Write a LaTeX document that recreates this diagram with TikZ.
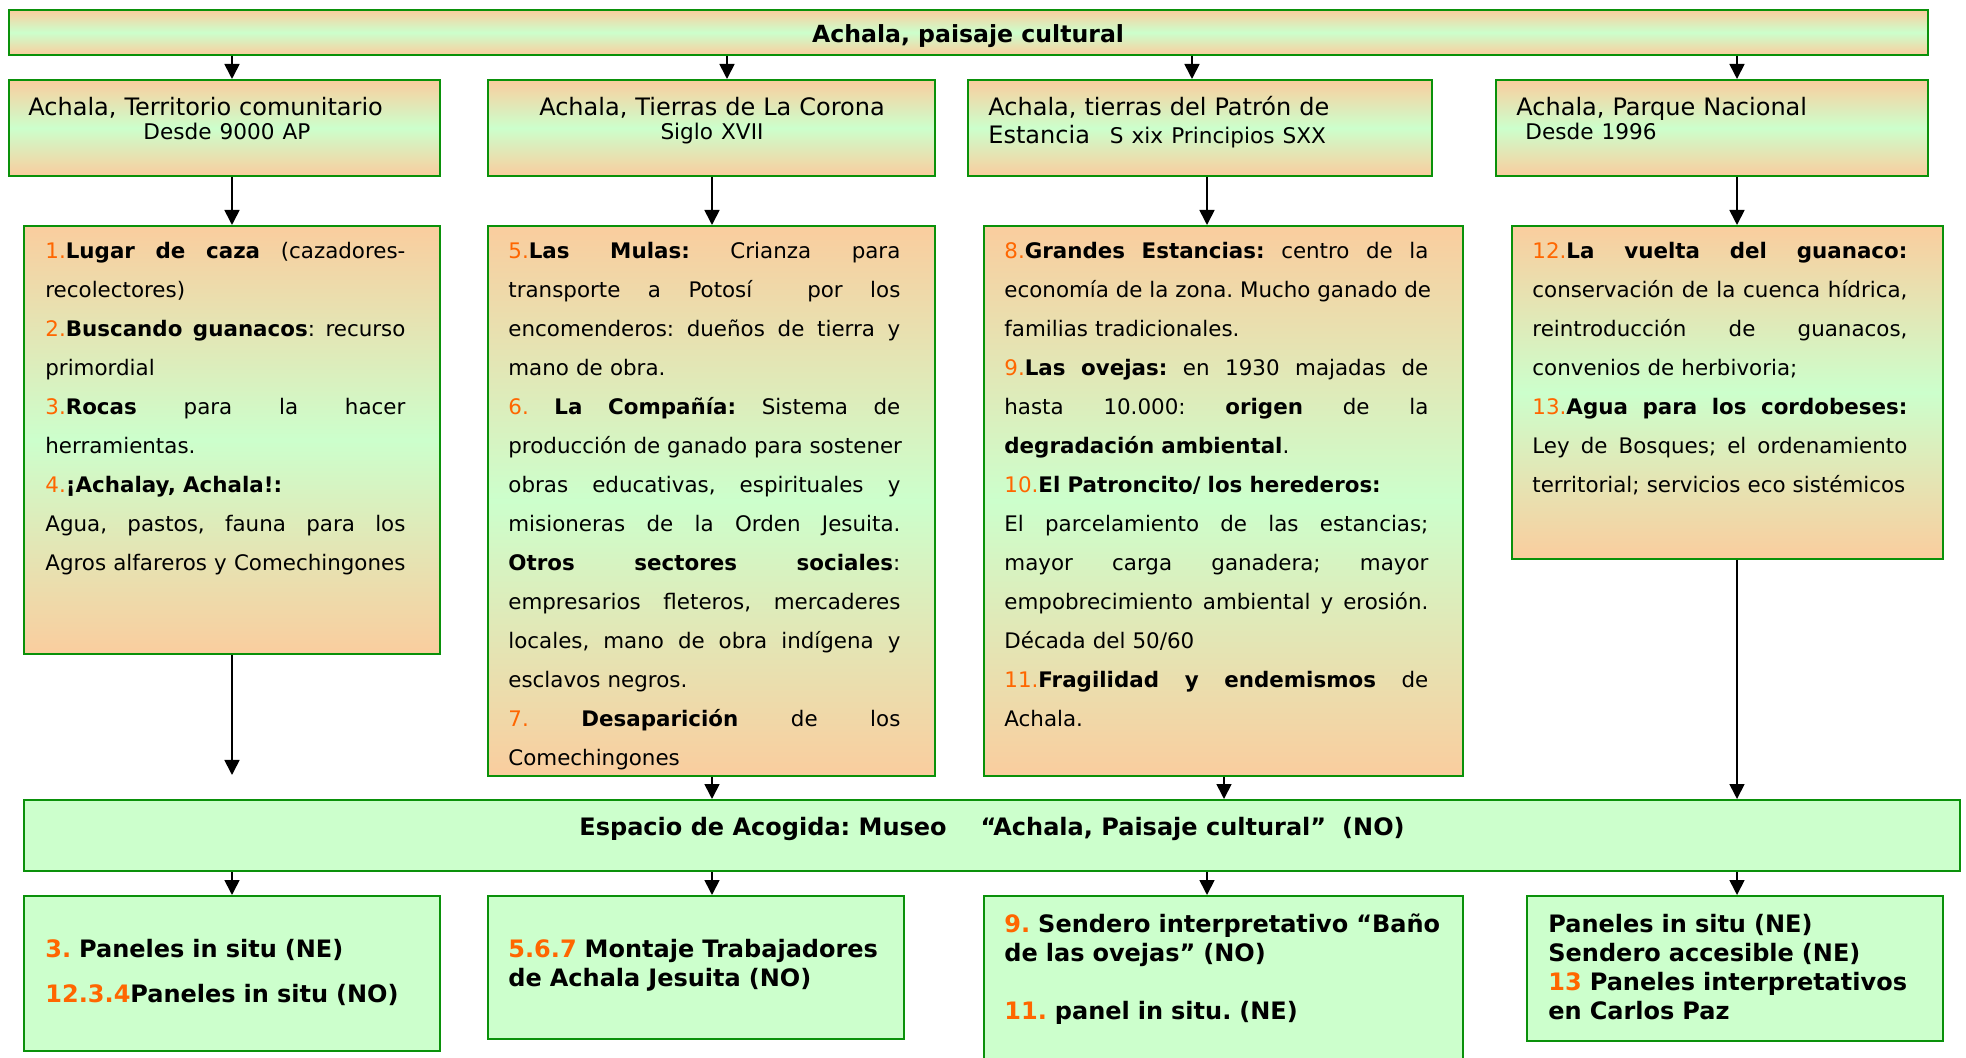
\documentclass[tikz,border=0pt]{standalone}
\usepackage{fontspec}
\setmainfont{DejaVu Sans}
\usetikzlibrary{
	arrows.meta,
	calc,
	positioning,
	fit
}

\definecolor{melocoton}{RGB}{250,205,158}
\definecolor{menta}{RGB}{204,255,204}
\definecolor{borde}{RGB}{10,145,10}
\definecolor{naranja}{RGB}{255,102,0}

\pgfdeclareverticalshading{franja}{100bp}{%
	color(0bp)=(melocoton); color(25bp)=(melocoton); color(50bp)=(menta);
	color(75bp)=(melocoton); color(100bp)=(melocoton)}

\frenchspacing
\hyphenpenalty=10000
\newlength{\anchocol}
\newcommand{\nro}[1]{\textcolor{naranja}{#1}}
\newcommand{\jl}[1]{\leavevmode\hbox to \anchocol{\spaceskip=0.32em plus 1fil\relax #1}}
\newcommand{\fl}[1]{\mbox{#1}}
\newcommand{\subt}{\fontsize{10.8}{12}\selectfont}

\tikzset{
	caja/.style={draw=borde, line width=1pt, shading=franja, inner sep=0pt},
	plana/.style={draw=borde, line width=1pt, fill=menta, inner sep=0pt},
	texto/.style={inner sep=0pt, anchor=base west, align=left},
	cuerpo/.style={texto, text width=#1, font=\fontsize{10.7}{19.5}\selectfont,
		execute at begin node={\setlength{\anchocol}{#1}}},
	pie/.style={texto, font=\fontsize{12}{14.5}\selectfont\bfseries},
	flecha/.style={-{Triangle[length=7.5pt,width=7.5pt]}, line width=0.85pt}
}

\begin{document}
\begin{tikzpicture}[x=0.5pt, y=-0.5pt]
	\useasboundingbox (0,0) rectangle (1966,1058);
	
	% 标题
	\node[caja, fit={(9,10) (1928,55)}] (T) {};
	\node[anchor=base, inner sep=0pt, font=\fontsize{11.8}{14}\selectfont\bfseries] (Tt) at (968,43) {Achala, paisaje cultural};
	
	% 第二行
	\node[caja, fit={(9,80) (440,176)}] (A) {};
	\node[caja, fit={(488,80) (935,176)}] (B) {};
	\node[caja, fit={(968,80) (1432,176)}] (C) {};
	\node[caja, fit={(1496,80) (1928,176)}] (D) {};
	\node[texto, text width=205pt, font=\fontsize{12}{12}\selectfont] (At) at (28,116)
		{Achala, Territorio comunitario\\\hspace*{57.5pt}\subt Desde 9000 AP};
	\node[anchor=base, inner sep=0pt, align=center, text width=215pt, font=\fontsize{12}{12}\selectfont] (Bt) at (712,116)
		{Achala, Tierras de La Corona\\\subt Siglo XVII};
	\node[texto, text width=220pt, font=\fontsize{12}{14}\selectfont] (Ct) at (988,116)
		{Achala, tierras del Patrón de\\Estancia\hspace{6pt} {\fontsize{10.8}{14}\selectfont S xix Principios SXX}};
	\node[texto, text width=205pt, font=\fontsize{12}{12}\selectfont] (Dt) at (1516,116)
		{Achala, Parque Nacional\\\hspace*{4.5pt}\subt Desde 1996};
	
	% 第三行
	\node[caja, fit={(24,226) (440,654)}] (A1) {};
	\node[caja, fit={(488,226) (935,776)}] (B1) {};
	\node[caja, fit={(984,226) (1463,776)}] (C1) {};
	\node[caja, fit={(1512,226) (1943,559)}] (D1) {};
	\node[cuerpo=180pt] (A1t) at (45,259) {%
		\jl{\nro{1.}\textbf{Lugar de caza} (cazadores-}\\
		\fl{recolectores)}\\
		\jl{\nro{2.}\textbf{Buscando guanacos}: recurso}\\
		\fl{primordial}\\
		\jl{\nro{3.}\textbf{Rocas} para la hacer}\\
		\fl{herramientas.}\\
		\fl{\nro{4.}\textbf{¡Achalay, Achala!:}}\\
		\jl{Agua, pastos, fauna para los}\\
		\fl{Agros alfareros y Comechingones}};
	\node[cuerpo=196pt] (B1t) at (508,259) {%
		\jl{\nro{5.}\textbf{Las Mulas:} Crianza para}\\
		\jl{transporte a Potosí \ por los}\\
		\jl{encomenderos: dueños de tierra y}\\
		\fl{mano de obra.}\\
		\jl{\nro{6.} \textbf{La Compañía:} Sistema de}\\
		\jl{producción de ganado para sostener}\\
		\jl{obras educativas, espirituales y}\\
		\jl{misioneras de la Orden Jesuita.}\\
		\jl{\textbf{Otros sectores sociales}:}\\
		\jl{empresarios fleteros, mercaderes}\\
		\jl{locales, mano de obra indígena y}\\
		\fl{esclavos negros.}\\
		\jl{\nro{7.} \textbf{Desaparición} de los}\\
		\fl{Comechingones}};
	\node[cuerpo=212pt] (C1t) at (1004,259) {%
		\jl{\nro{8.}\textbf{Grandes Estancias:} centro de la}\\
		\jl{economía de la zona. Mucho ganado de}\\
		\fl{familias tradicionales.}\\
		\jl{\nro{9.}\textbf{Las ovejas:} en 1930 majadas de}\\
		\jl{hasta 10.000: \textbf{origen} de la}\\
		\fl{\textbf{degradación ambiental}.}\\
		\fl{\nro{10.}\textbf{El Patroncito/ los herederos:}}\\
		\jl{El parcelamiento de las estancias;}\\
		\jl{mayor carga ganadera; mayor}\\
		\jl{empobrecimiento ambiental y erosión.}\\
		\fl{Década del 50/60}\\
		\jl{\nro{11.}\textbf{Fragilidad y endemismos} de}\\
		\fl{Achala.}};
	\node[cuerpo=187.5pt] (D1t) at (1532,259) {%
		\jl{\nro{12.}\textbf{La vuelta del guanaco:}}\\
		\jl{conservación de la cuenca hídrica,}\\
		\jl{reintroducción de guanacos,}\\
		\fl{convenios de herbivoria;}\\
		\jl{\nro{13.}\textbf{Agua para los cordobeses:}}\\
		\jl{Ley de Bosques; el ordenamiento}\\
		\fl{territorial; servicios eco sistémicos}};
	
	% 博物馆
	\node[plana, fit={(24,800) (1960,871)}] (M) {};
	\node[anchor=base, inner sep=0pt, font=\fontsize{12}{14}\selectfont\bfseries] (Mt) at (992,835)
		{Espacio de Acogida: Museo\hspace{17pt}“Achala, Paisaje cultural”\hspace{8pt}(NO)};
	
	% 最下面一行
	\node[plana, fit={(24,896) (440,1051)}] (A2) {};
	\node[plana, fit={(488,896) (904,1039)}] (B2) {};
	\node[plana, fit={(984,896) (1463,1075)}] (C2) {};
	\node[plana, fit={(1527,896) (1943,1041)}] (D2) {};
	\node[pie, text width=190pt, font=\fontsize{12}{22.5}\selectfont\bfseries] (A2t) at (45,957)
		{\nro{3.} Paneles in situ (NE)\\\nro{12.3.4}Paneles in situ (NO)};
	\node[pie, text width=200pt] (B2t) at (508,957)
		{\nro{5.6.7} Montaje Trabajadores\\de Achala Jesuita (NO)};
	\node[pie, text width=225pt] (C2t) at (1004,932)
		{\nro{9.} Sendero interpretativo “Baño\\de las ovejas” (NO)\\[14.5pt]\nro{11.} panel in situ. (NE)};
	\node[pie, text width=200pt] (D2t) at (1548,932)
		{Paneles in situ (NE)\\Sendero accesible (NE)\\\nro{13} Paneles interpretativos\\en Carlos Paz};
	
	% 箭头的位置
	\foreach \x/\n in {232/1,727/2,1192/3,1737/4}
		\coordinate (t\n) at (\x,0);
	\foreach \x/\n in {232/1,712/2,1207/3,1737/4}
		\coordinate (k\n) at (\x,0);
	\foreach \x/\n in {232/1,712/2,1224/3,1737/4}
		\coordinate (m\n) at (\x,0);
	\coordinate (fin) at (232,775);
	
	% 箭头
	\foreach \a/\b/\c in {T/A/t1,T/B/t2,T/C/t3,T/D/t4,A/A1/k1,B/B1/k2,C/C1/k3,D/D1/k4,M/A2/k1,M/B2/k2,M/C2/k3,M/D2/k4}
		\draw[flecha] (\a.south -| \c) -- (\b.north -| \c);
	\foreach \a/\c in {B1/m2,C1/m3,D1/m4}
		\draw[flecha] (\a.south -| \c) -- (M.north -| \c);
	\draw[flecha] (A1.south -| m1) -- (fin);
\end{tikzpicture}
\end{document}
